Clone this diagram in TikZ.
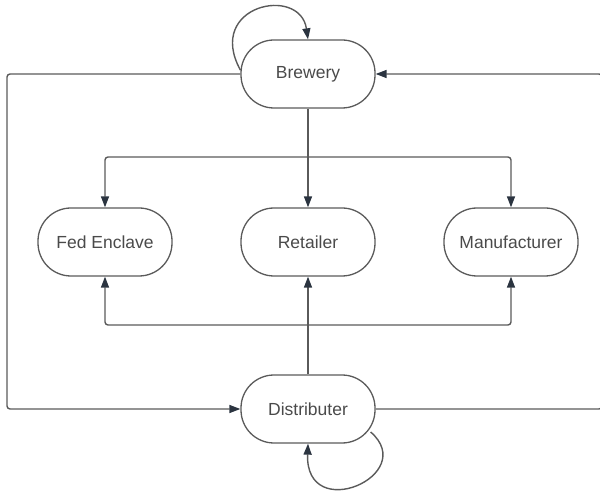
\documentclass[tikz,border=0pt]{standalone}
\usepackage{fontspec}
\setmainfont{Liberation Sans}
\usepackage{xcolor}
\usepackage{tikz}
\usetikzlibrary{positioning, arrows.meta, calc}

\definecolor{edgegray}{HTML}{5A5A5A}
\definecolor{tipnavy}{HTML}{2B3440}
\definecolor{textgray}{HTML}{4A4A4A}

\tikzset{
  stage/.style={draw=edgegray, line width=1.3pt, rounded corners=33pt, minimum width=134pt, minimum height=68pt, text=textgray, font=\fontsize{17.5}{20}\selectfont},
  link/.style={draw=edgegray, line width=1.4pt, rounded corners=3pt},
  flow/.style={link, -{Triangle[length=11pt, width=8pt, color=tipnavy]}},
}

\begin{document}
\begin{tikzpicture}[x=1pt, y=-1pt]
      \useasboundingbox (0,0) rectangle (600,494);

      \node[stage] (brewery) at (308, 74) {Brewery};
      \node[stage] (fed) at (105, 242) {Fed Enclave};
      \node[stage] (retailer) at (308, 242) {Retailer};
      \node[stage] (manuf) at (511, 242) {Manufacturer};
      \node[stage] (distrib) at (308, 409) {Distributer};

      \coordinate (split) at (308, 157);
      \coordinate (merge) at (308, 325);
      \coordinate (lft) at (7, 409);
      \coordinate (rgt) at (602, 74);

      % brewery fans out to the middle row
      \draw[link] (brewery) -- (split);
      \draw[flow] (split) -| (fed);
      \draw[flow] (split) -- (retailer);
      \draw[flow] (split) -| (manuf);

      % distributer fans out to the middle row
      \draw[link] (distrib) -- (merge);
      \draw[flow] (merge) -| (fed);
      \draw[flow] (merge) -- (retailer);
      \draw[flow] (merge) -| (manuf);

      % outer loops
      \draw[flow] (brewery.west) -| (lft) -- (distrib.west);
      \draw[flow] (distrib.east) -| (rgt) -- (brewery.east);

      % self loops
      \draw[flow] ($(brewery.west)+(0,-4)$) .. controls (205, 5) and (300, -15) .. (brewery.north);
      \draw[flow] ($(distrib.east)+(-5,23)$) .. controls (420, 475) and (305, 525) .. (distrib.south);
\end{tikzpicture}
\end{document}
